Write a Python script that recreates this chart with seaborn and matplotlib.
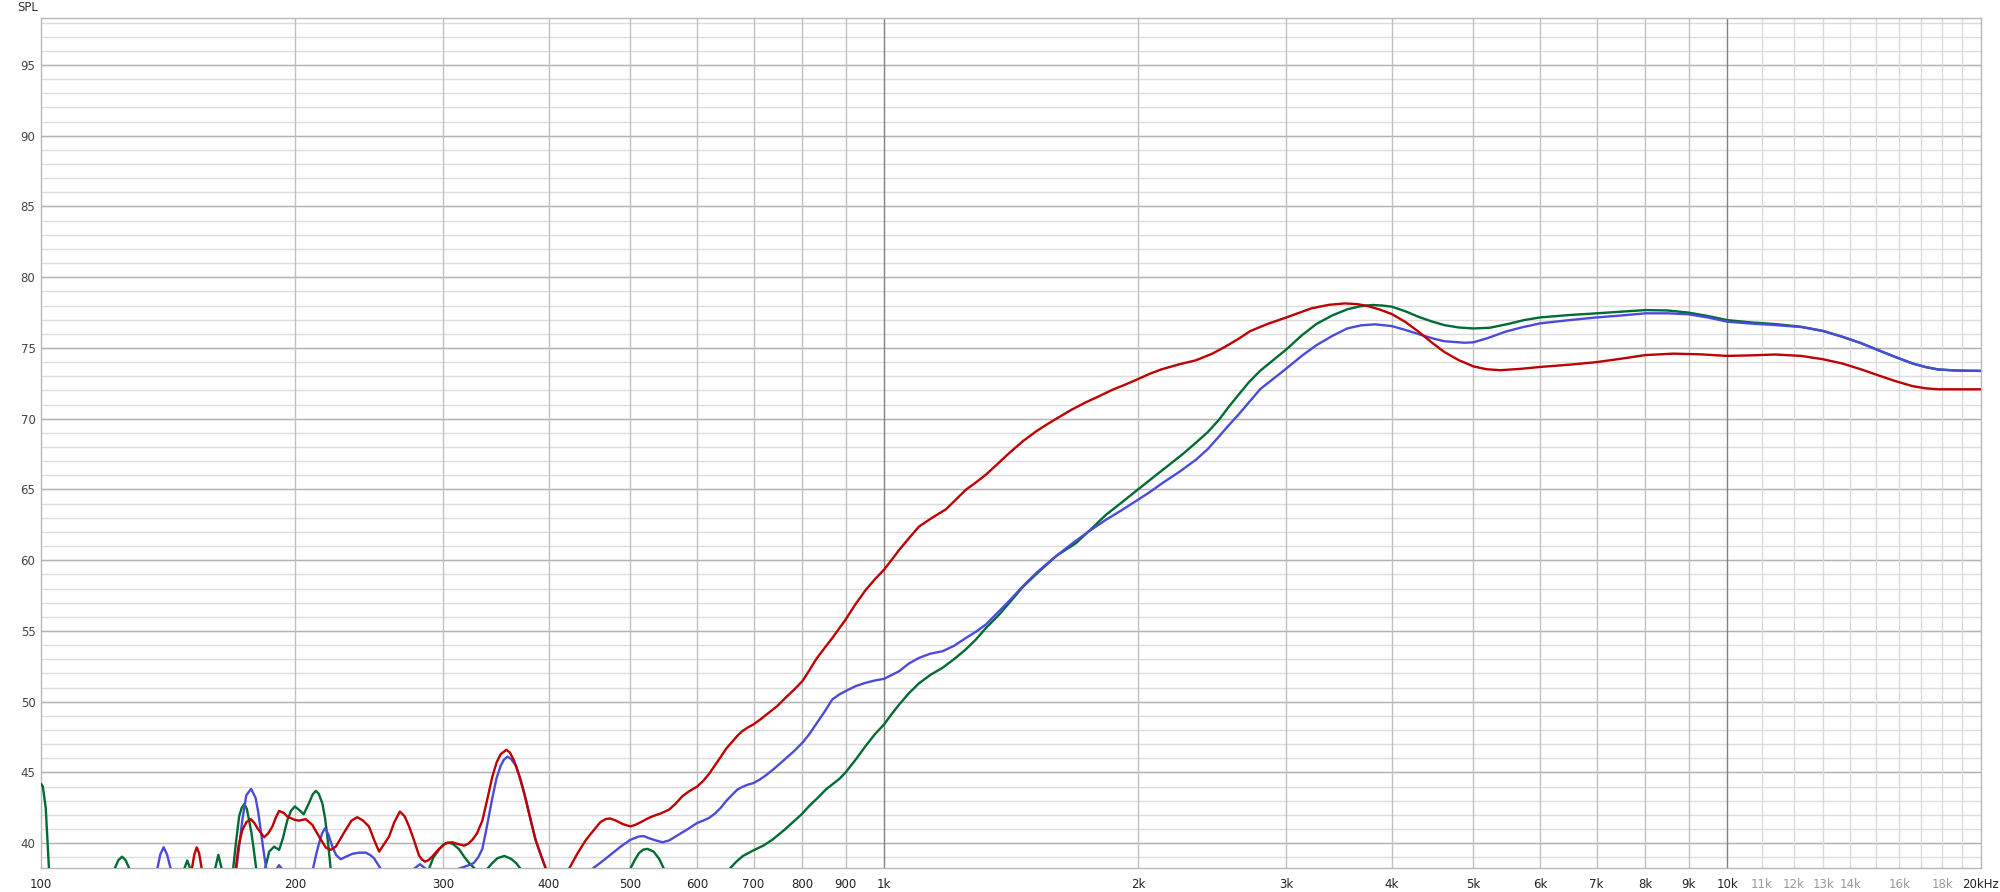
import pandas as pd
import matplotlib
matplotlib.use('Agg')
import matplotlib.pyplot as plt
import seaborn as sns

# values (Hz, dB SPL); points below 38 sit off the bottom of the plot
green_freq = [100, 100.5, 101.3, 102.2, 110, 122.3, 123.5, 124.8, 126, 127.3, 138, 147.9, 149.1, 150.3, 155,
              160.9, 162.3, 163.8, 166, 169.0, 170.5, 171.8, 173, 174.3, 175.5, 176.5, 177.6, 178.6, 180.0, 182,
              184.4, 186.5, 189, 191.6, 193.5, 196, 198, 200, 202.3, 204.9, 207.9, 210, 211.8, 213.5, 215.6,
              217.2, 218.6, 220.6, 225,
              288.6, 292, 297, 300, 304, 308, 313, 318, 322, 327, 333, 338.4, 343, 348, 354.5, 361, 366, 370.5, 380,
              500, 506, 512, 518, 524, 533, 541, 548, 560,
              656, 668, 680, 690, 700, 720, 737, 760, 775, 790, 800, 817, 834, 853, 870, 885, 900, 925, 951, 975,
              1000, 1020, 1042, 1070, 1100, 1135, 1173, 1210, 1250, 1285, 1320, 1369, 1413, 1460, 1514, 1560,
              1600, 1688, 1760, 1832, 1915, 2000, 2090, 2178, 2260, 2343, 2420, 2496, 2560, 2633, 2710, 2794,
              3000, 3130, 3257, 3400, 3542, 3670, 3797, 3900, 4000, 4150, 4305, 4460, 4615, 4800, 5000, 5230,
              5500, 5750, 6000, 6500, 7000, 7500, 8000, 8500, 9000, 9500, 10000, 10700, 11400, 12240, 13000,
              13700, 14400, 15100, 15850, 16600, 17200, 17800, 18800, 20000]
green_spl = [44.2, 44.0, 42.5, 38.2, 34, 38.2, 38.8, 39.05, 38.8, 38.2, 34, 38.2, 38.78, 38.2, 35,
             38.2, 39.18, 38.2, 36, 38.2, 40.3, 41.9, 42.5, 42.78, 42.4, 41.65, 40.8, 39.76, 38.2, 36,
             38.2, 39.41, 39.76, 39.53, 40.3, 41.65, 42.3, 42.6, 42.36, 42.05, 42.83, 43.45, 43.7, 43.5, 42.83,
             41.8, 40.47, 38.2, 34,
             38.2, 39.0, 39.6, 39.9, 40.05, 39.95, 39.6, 39.0, 38.6, 38.2, 36, 38.2, 38.6, 38.95, 39.1, 38.9, 38.6, 38.2, 34,
             38.2, 38.8, 39.3, 39.55, 39.6, 39.4, 38.9, 38.2, 35,
             38.2, 38.7, 39.1, 39.3, 39.5, 39.85, 40.25, 40.9, 41.35, 41.8, 42.1, 42.7, 43.2, 43.8, 44.2, 44.55, 45.0, 45.9, 46.88, 47.7,
             48.4, 49.1, 49.8, 50.6, 51.3, 51.9, 52.4, 53.0, 53.7, 54.4, 55.2, 56.15, 57.1, 58.1, 59.0, 59.7,
             60.3, 61.2, 62.2, 63.2, 64.1, 65.0, 65.9, 66.75, 67.5, 68.3, 69.05, 69.93, 70.8, 71.7, 72.6, 73.4,
             74.9, 75.9, 76.7, 77.3, 77.73, 77.95, 78.04, 78.0, 77.92, 77.6, 77.2, 76.88, 76.62, 76.45, 76.38, 76.43,
             76.7, 76.98, 77.16, 77.33, 77.45, 77.57, 77.68, 77.65, 77.5, 77.25, 76.97, 76.8, 76.69, 76.5, 76.2,
             75.79, 75.35, 74.85, 74.35, 73.9, 73.65, 73.48, 73.4, 73.38]

blue_freq = [100, 137.4, 138.5, 139.8, 141.1, 142.5, 155, 170.5, 172, 173.3, 175.2, 177.5, 179.7, 181, 182.2,
             183.6, 185.0, 187, 190.3, 191.6, 193, 200, 210.2, 212, 213.7, 215.5, 217.2, 219.3, 221.6, 224,
             226.7, 230, 234, 238, 242.7, 246, 248.3, 252.9, 260, 277, 281.5, 286, 300, 313, 320, 326, 330,
             333.8, 338, 343, 347, 351, 354, 357.5, 361, 366, 371, 376, 381, 386, 392, 397, 410,
             451, 465, 476, 488, 500, 512, 519, 526, 536, 546, 556, 566, 585, 600, 610, 620, 630, 640, 650,
             661, 670, 680, 690, 700, 712, 724, 740, 758, 780, 800, 815, 830, 850, 868, 884, 900, 925, 951,
             975, 1000, 1042, 1070, 1100, 1135, 1173, 1210, 1250, 1285, 1320, 1369, 1413, 1460, 1514, 1560,
             1600, 1673, 1750, 1832, 1915, 2000, 2070, 2138, 2240, 2343, 2420, 2496, 2560, 2633, 2794, 3000,
             3130, 3257, 3400, 3542, 3680, 3823, 4000, 4150, 4305, 4460, 4615, 4879, 5000, 5200, 5456, 5700,
             6000, 6500, 7000, 7500, 8000, 8500, 9000, 9500, 10000, 10700, 11400, 12240, 13000, 13700, 14400,
             15100, 15850, 16600, 17200, 17800, 18800, 20000]
blue_spl = [34, 38.2, 39.2, 39.72, 39.2, 38.2, 34, 38.2, 40.0, 41.65, 43.4, 43.84, 43.2, 42.2, 40.94,
            39.5, 38.2, 36, 38.2, 38.45, 38.2, 35, 38.2, 39.2, 40.0, 40.7, 41.06, 40.6, 39.76, 39.15,
            38.87, 39.05, 39.25, 39.33, 39.34, 39.15, 38.94, 38.2, 35, 38.2, 38.52, 38.2, 35, 38.2, 38.4, 38.6, 39.0,
            39.6, 41.2, 43.2, 44.6, 45.48, 45.9, 46.12, 45.95, 45.48, 44.4, 43.1, 41.6, 40.24, 39.1, 38.2, 34,
            38.2, 38.8, 39.29, 39.8, 40.24, 40.48, 40.5, 40.36, 40.2, 40.07, 40.2, 40.48, 41.0, 41.43, 41.6, 41.79, 42.1, 42.5, 43.0,
            43.45, 43.8, 44.0, 44.15, 44.25, 44.5, 44.8, 45.25, 45.8, 46.45, 47.1, 47.7, 48.4, 49.3, 50.16, 50.5, 50.75, 51.1, 51.34,
            51.5, 51.62, 52.16, 52.7, 53.1, 53.4, 53.57, 53.95, 54.5, 54.95, 55.45, 56.4, 57.24, 58.15, 59.08, 59.75,
            60.3, 61.2, 62.05, 62.85, 63.55, 64.27, 64.85, 65.45, 66.25, 67.1, 67.85, 68.75, 69.5, 70.3, 72.1, 73.55,
            74.45, 75.2, 75.85, 76.38, 76.6, 76.67, 76.55, 76.28, 75.98, 75.7, 75.48, 75.37, 75.4, 75.7, 76.15, 76.45,
            76.74, 76.97, 77.16, 77.3, 77.45, 77.45, 77.38, 77.15, 76.86, 76.72, 76.62, 76.48, 76.2, 75.79, 75.35,
            74.85, 74.35, 73.9, 73.65, 73.48, 73.4, 73.38]

red_freq = [100, 151.0, 152, 153, 154, 155.1, 165, 170.2, 171.5, 173.3, 175.3, 177.3, 179, 180.6, 183.9,
            186, 188.1, 190, 191.6, 194, 196, 200, 202.3, 206.1, 209.8, 213.7, 217.7, 220.6, 223.7, 226.5,
            229.8, 233.5, 237.2, 241, 244.9, 248.5, 251.8, 255, 258.7, 262.5, 266.5, 270, 273.3, 277, 280.7,
            283, 285.5, 288, 291, 296, 302, 307.5, 312, 317.5, 321, 324.8, 329, 333.8, 338, 343, 347, 351,
            356.5, 360, 364, 369, 374, 380, 386, 392, 397, 410,
            423, 433, 443, 455, 461, 467.5, 473, 480, 490, 500, 507, 515, 523, 531, 543, 556, 566, 576.5, 588,
            600, 610, 620, 630, 640, 650, 661, 670, 679, 690, 700, 715, 730, 747, 764, 782, 800, 815, 830, 850,
            868, 884, 900, 925, 951, 975, 1000, 1020, 1042, 1070, 1100, 1140, 1184, 1215, 1250, 1285, 1320,
            1360, 1407, 1460, 1514, 1560, 1613, 1670, 1735, 1800, 1866, 1930, 2000, 2070, 2138, 2240, 2343,
            2451, 2540, 2633, 2719, 2850, 3000, 3212, 3370, 3517, 3640, 3744, 3870, 4000, 4150, 4305, 4460,
            4615, 4800, 5000, 5180, 5380, 5700, 6000, 6500, 7000, 7500, 8000, 8640, 9300, 10000, 10700,
            11400, 12240, 13000, 13700, 14400, 15100, 15850, 16600, 17200, 17800, 20000]
red_spl = [34, 38.2, 39.2, 39.71, 39.3, 38.2, 34, 38.2, 39.8, 40.94, 41.5, 41.7, 41.45, 41.06, 40.42,
           40.7, 41.18, 41.85, 42.28, 42.15, 41.88, 41.65, 41.6, 41.7, 41.3, 40.47, 39.69, 39.53, 39.76, 40.3,
           40.94, 41.6, 41.84, 41.6, 41.18, 40.2, 39.41, 39.9, 40.47, 41.5, 42.24, 41.9, 41.18, 40.2, 39.15,
           38.85, 38.7, 38.8, 39.05, 39.55, 40.0, 40.07, 39.95, 39.83, 39.95, 40.24, 40.7, 41.6, 43.0, 44.7, 45.7, 46.3,
           46.6, 46.4, 45.83, 44.8, 43.57, 41.9, 40.24, 39.1, 38.2, 34,
           38.2, 39.3, 40.24, 41.1, 41.5, 41.71, 41.75, 41.62, 41.35, 41.19, 41.3, 41.5, 41.72, 41.9, 42.1, 42.38, 42.8, 43.33, 43.7,
           44.0, 44.4, 44.9, 45.5, 46.1, 46.7, 47.2, 47.6, 47.93, 48.2, 48.4, 48.8, 49.23, 49.7, 50.28, 50.85, 51.46, 52.2, 52.98, 53.8,
           54.5, 55.15, 55.8, 56.9, 57.9, 58.65, 59.34, 60.0, 60.73, 61.55, 62.38, 63.0, 63.6, 64.25, 64.98, 65.5, 66.04,
           66.75, 67.57, 68.4, 69.1, 69.6, 70.12, 70.65, 71.16, 71.6, 72.05, 72.4, 72.8, 73.2, 73.51, 73.85, 74.13,
           74.6, 75.1, 75.65, 76.2, 76.7, 77.16, 77.8, 78.05, 78.15, 78.1, 77.97, 77.72, 77.4, 76.85, 76.15, 75.4,
           74.73, 74.15, 73.7, 73.5, 73.43, 73.53, 73.66, 73.82, 74.0, 74.25, 74.5, 74.6, 74.55, 74.44, 74.48,
           74.54, 74.44, 74.2, 73.9, 73.5, 73.07, 72.65, 72.3, 72.15, 72.08, 72.08]

tick_freqs = [100, 200, 300, 400, 500, 600, 700, 800, 900, 1000, 2000, 3000, 4000, 5000, 6000,
              7000, 8000, 9000, 10000, 11000, 12000, 13000, 14000, 16000, 18000, 20000]
tick_labels = ['100', '200', '300', '400', '500', '600', '700', '800', '900', '1k', '2k', '3k', '4k',
               '5k', '6k', '7k', '8k', '9k', '10k', '11k', '12k', '13k', '14k', '16k', '18k', '20kHz']
spl_ticks = [40, 45, 50, 55, 60, 65, 70, 75, 80, 85, 90, 95]

df = pd.concat([
    pd.DataFrame({'freq': green_freq, 'spl': green_spl, 'series': 'green'}),
    pd.DataFrame({'freq': blue_freq, 'spl': blue_spl, 'series': 'blue'}),
    pd.DataFrame({'freq': red_freq, 'spl': red_spl, 'series': 'red'}),
])

sns.set_style('white')
plt.rcParams['font.family'] = ['Liberation Sans Narrow', 'DejaVu Sans']

fig = plt.figure(figsize=(20, 8.92), dpi=100)
ax = fig.add_axes([0.0205, 0.0269, 0.97, 0.9526])
ax.set_xscale('log')
ax.set_xlim(100, 20000)
ax.set_ylim(38.25, 98.3)

# grid: 1 dB fine lines, 5 dB stronger, decade lines darkest
for db in range(39, 99):
    ax.axhline(db, color='#dcdcdc', lw=1, zorder=0.5)
for db in spl_ticks:
    ax.axhline(db, color='#b4b4b4', lw=1, zorder=0.6)
for f in list(range(200, 1000, 100)) + list(range(2000, 10000, 1000)):
    ax.axvline(f, color='#c0c0c0', lw=1, zorder=0.7)
for f in range(11000, 20000, 1000):
    ax.axvline(f, color='#dadada', lw=1, zorder=0.7)
for f in [1000, 10000]:
    ax.axvline(f, color='#808080', lw=1, zorder=0.8)

sns.lineplot(data=df, x='freq', y='spl', hue='series', hue_order=['green', 'blue', 'red'],
             palette={'green': '#006b33', 'blue': '#4b4bdb', 'red': '#c00000'},
             linewidth=1.7, legend=False, ax=ax, zorder=3)

ax.set_xticks(tick_freqs)
ax.set_xticklabels(tick_labels)
ax.xaxis.set_minor_locator(matplotlib.ticker.NullLocator())
ax.set_yticks(spl_ticks)
ax.set_yticklabels([str(v) for v in spl_ticks])
ax.tick_params(axis='x', length=0, pad=7, labelsize=8.5, labelcolor='#222222')
ax.tick_params(axis='y', length=0, pad=4, labelsize=8.5, labelcolor='#444444')
for lab, f in zip(ax.get_xticklabels(), tick_freqs):
    if 10000 < f < 20000:
        lab.set_color('#999999')
ax.set_xlabel('')
ax.set_ylabel('')

for side in ['top', 'left', 'right', 'bottom']:
    ax.spines[side].set_color('#b8b8b8')
    ax.spines[side].set_linewidth(1)

fig.text(28 / 2000, 1 - 7.5 / 892, 'SPL', ha='center', va='center', fontsize=8.5, color='#333333')

fig.savefig('out.png', dpi=100)
